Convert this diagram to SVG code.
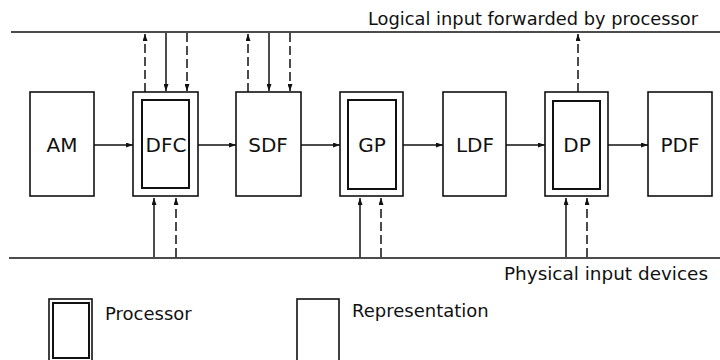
<svg xmlns="http://www.w3.org/2000/svg" width="720" height="360" viewBox="0 0 720 360">
<style>
.box{fill:#fff;stroke:#111;stroke-width:1.6}
.inner{fill:none;stroke:#111;stroke-width:2}
.lbl{font-family:"DejaVu Sans",sans-serif;font-size:20px;fill:#111;text-anchor:middle}
.txt{font-family:"DejaVu Sans",sans-serif;font-size:18px;fill:#111}
.bus{stroke:#111;stroke-width:1.6;fill:none}
.c{stroke:#111;stroke-width:1.5;fill:none;marker-end:url(#ah)}
.d{stroke-dasharray:9 4}
</style>
<defs>
<marker id="ah" viewBox="0 0 7 5" refX="7" refY="2.5" markerWidth="7" markerHeight="5" orient="auto" markerUnits="userSpaceOnUse">
<path d="M0,0 L7,2.5 L0,5 z" fill="#111"/>
</marker>
</defs>
<rect width="720" height="360" fill="#fff"/>

<g id="buses">
<line class="bus" x1="11" y1="32" x2="720" y2="32"/>
<line class="bus" x1="9" y1="258" x2="720" y2="258"/>
<text class="txt" x="698" y="25" text-anchor="end" textLength="330" lengthAdjust="spacingAndGlyphs">Logical input forwarded by processor</text>
<text class="txt" x="708" y="280" text-anchor="end" textLength="204" lengthAdjust="spacingAndGlyphs">Physical input devices</text>
</g>

<g id="connectors">
<line class="c" x1="94" y1="145" x2="133" y2="145"/>
<line class="c" x1="198" y1="145" x2="236" y2="145"/>
<line class="c" x1="301" y1="145" x2="340" y2="145"/>
<line class="c" x1="403" y1="145" x2="443" y2="145"/>
<line class="c" x1="506" y1="145" x2="545" y2="145"/>
<line class="c" x1="608" y1="145" x2="648" y2="145"/>
<!-- top: DFC -->
<line class="c d" x1="145" y1="92" x2="145" y2="34"/>
<line class="c" x1="166" y1="33" x2="166" y2="91"/>
<line class="c d" x1="187" y1="33" x2="187" y2="91"/>
<!-- top: SDF -->
<line class="c d" x1="248" y1="92" x2="248" y2="34"/>
<line class="c" x1="269" y1="33" x2="269" y2="91"/>
<line class="c d" x1="290" y1="33" x2="290" y2="91"/>
<!-- top: DP -->
<line class="c d" x1="578" y1="92" x2="578" y2="34"/>
<!-- bottom: DFC -->
<line class="c" x1="154" y1="257" x2="154" y2="198"/>
<line class="c d" x1="176" y1="257" x2="176" y2="198"/>
<!-- bottom: GP -->
<line class="c" x1="360" y1="257" x2="360" y2="198"/>
<line class="c d" x1="381" y1="257" x2="381" y2="198"/>
<!-- bottom: DP -->
<line class="c" x1="566" y1="257" x2="566" y2="198"/>
<line class="c d" x1="587" y1="257" x2="587" y2="198"/>
</g>

<g id="AM">
<rect class="box" x="30" y="92" width="64" height="104"/>
<text class="lbl" x="62" y="152">AM</text>
</g>
<g id="DFC">
<rect class="box" x="133" y="92" width="65" height="104"/>
<rect class="inner" x="142" y="100" width="47" height="88"/>
<text class="lbl" x="166" y="152">DFC</text>
</g>
<g id="SDF">
<rect class="box" x="236" y="92" width="65" height="104"/>
<text class="lbl" x="268" y="152">SDF</text>
</g>
<g id="GP">
<rect class="box" x="340" y="92" width="63" height="104"/>
<rect class="inner" x="348" y="100" width="48" height="89"/>
<text class="lbl" x="372" y="152">GP</text>
</g>
<g id="LDF">
<rect class="box" x="443" y="92" width="63" height="104"/>
<text class="lbl" x="475" y="152">LDF</text>
</g>
<g id="DP">
<rect class="box" x="545" y="92" width="63" height="104"/>
<rect class="inner" x="553" y="101" width="47" height="88"/>
<text class="lbl" x="577" y="152">DP</text>
</g>
<g id="PDF">
<rect class="box" x="648" y="92" width="64" height="104"/>
<text class="lbl" x="680" y="152">PDF</text>
</g>

<g id="legend-processor">
<rect class="box" x="49" y="299" width="43" height="70"/>
<rect class="inner" x="53" y="303" width="36" height="55" stroke-width="1.4"/>
<text class="txt" x="105" y="320">Processor</text>
</g>
<g id="legend-representation">
<rect class="box" x="297" y="299" width="42" height="70"/>
<text class="txt" x="352" y="317">Representation</text>
</g>
</svg>
